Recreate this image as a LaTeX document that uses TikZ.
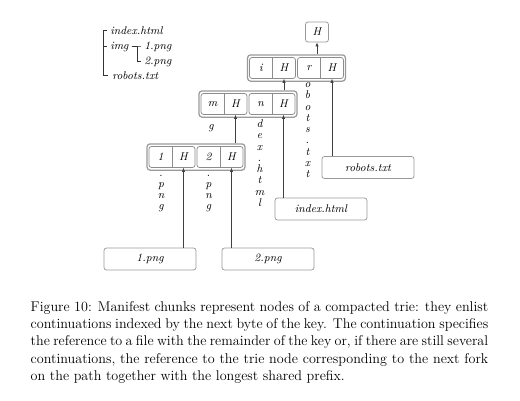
\documentclass[tikz,border=0pt]{standalone}
\usetikzlibrary{arrows.meta}
\begin{document}
\begin{tikzpicture}[x=0.8pt,y=-0.8pt,
  lbl/.style={font=\fontsize{9}{11}\selectfont\itshape, inner sep=0pt},
  cell/.style={lbl, minimum width=18.4pt, minimum height=16.8pt},
  pairbox/.style={draw=black!45, rounded corners=2pt, minimum width=36.8pt, minimum height=16.8pt, inner sep=0pt, line width=0.6pt},
  chunkbox/.style={draw=black!40, rounded corners=2.5pt, minimum width=78.4pt, minimum height=21pt, inner sep=0pt, line width=1pt},
  filebox/.style={lbl, draw=black!40, rounded corners=2pt, minimum width=73.6pt, minimum height=17.6pt, line width=0.6pt},
  hbox/.style={lbl, draw=black!40, rounded corners=2pt, minimum width=18.4pt, minimum height=16pt, line width=0.6pt},
  arr/.style={-{Latex[length=3.2pt,width=2.6pt]}, draw=black!75, line width=0.5pt},
  treeline/.style={draw=black!80, line width=0.5pt},
  divider/.style={draw=black!45, line width=0.6pt}
]
\useasboundingbox (0,0) rectangle (520,400);

% ---------- directory tree ----------
\node[lbl, anchor=base west] (t-idx) at (110,34) {index.html};
\node[lbl, anchor=base west] (t-img) at (110,49) {img};
\node[lbl, anchor=base west] (t-1) at (144,49) {1.png};
\node[lbl, anchor=base west] (t-2) at (144,64) {2.png};
\node[lbl, anchor=base west] (t-rob) at (112,79) {robots.txt};
\coordinate (tr) at (103,0);
\coordinate (tr2) at (137,0);
\draw[treeline] ([xshift=-2.4pt]t-idx.west) -- (t-idx.west -| tr) -- (t-rob.west -| tr) -- ([xshift=-3.2pt]t-rob.west);
\draw[treeline] (t-img.west -| tr) -- ([xshift=-2.4pt]t-img.west);
\draw[treeline] ([xshift=2.4pt]t-img.east) -- ([xshift=-2.4pt]t-1.west);
\draw[treeline] (t-1.west -| tr2) -- (t-2.west -| tr2) -- ([xshift=-2.4pt]t-2.west);

% ---------- top H ----------
\node[hbox] (root) at (317,32) {H};

% ---------- top chunk ----------
\node[chunkbox] (top) at (296.5,68) {};
\node[pairbox] (top-p1) at (272.5,68) {};
\node[pairbox] (top-p2) at (320.5,68) {};
\draw[divider] (top-p1.north) -- (top-p1.south);
\draw[divider] (top-p2.north) -- (top-p2.south);
\node[cell] (top-i) at (261,68) {i};
\node[cell] (top-iH) at (284,68) {H};
\node[cell] (top-r) at (309,68) {r};
\node[cell] (top-rH) at (332,68) {H};

% ---------- middle chunk ----------
\node[chunkbox] (mid) at (248,104) {};
\node[pairbox] (mid-p1) at (224,104) {};
\node[pairbox] (mid-p2) at (272,104) {};
\draw[divider] (mid-p1.north) -- (mid-p1.south);
\draw[divider] (mid-p2.north) -- (mid-p2.south);
\node[cell] (mid-m) at (212.5,104) {m};
\node[cell] (mid-mH) at (235.5,104) {H};
\node[cell] (mid-n) at (260.5,104) {n};
\node[cell] (mid-nH) at (283.5,104) {H};

% ---------- bottom chunk ----------
\node[chunkbox] (bot) at (196,157) {};
\node[pairbox] (bot-p1) at (172,157) {};
\node[pairbox] (bot-p2) at (220,157) {};
\draw[divider] (bot-p1.north) -- (bot-p1.south);
\draw[divider] (bot-p2.north) -- (bot-p2.south);
\node[cell] (bot-1) at (160.5,157) {1};
\node[cell] (bot-1H) at (183.5,157) {H};
\node[cell] (bot-2) at (208.5,157) {2};
\node[cell] (bot-2H) at (231.5,157) {H};

% ---------- remainders (vertical) ----------
\node[lbl, anchor=base] (rest-g) at (211,129) {g};
\foreach \ch [count=\i from 0] in {d,e,x,.,h,t,m,l}
  \node[lbl, anchor=base] (rest-n-\i) at (259.5,127.5+\i*11.25) {\ch};
\foreach \ch [count=\i from 0] in {o,b,o,t,s,.,t,x,t}
  \node[lbl, anchor=base] (rest-r-\i) at (307.5,87.5+\i*11.25) {\ch};
\foreach \ch [count=\i from 0] in {.,p,n,g}
  \node[lbl, anchor=base] (rest-1-\i) at (161,176+\i*11) {\ch};
\foreach \ch [count=\i from 0] in {.,p,n,g}
  \node[lbl, anchor=base] (rest-2-\i) at (208.5,176+\i*11) {\ch};

% ---------- files ----------
\node[filebox] (f1) at (150,259) {1.png};
\node[filebox] (f2) at (268,259) {2.png};
\node[filebox] (fidx) at (321,209) {index.html};
\node[filebox] (frob) at (368,167.5) {robots.txt};

% ---------- arrows ----------
\draw[arr] (top.north -| root) -- (root.south);
\draw[arr] (mid.north -| top-iH) -- (top-iH.south);
\draw[arr] (bot.north -| mid-mH) -- (mid-mH.south);
\draw[arr] (f1.north -| bot-1H) -- (bot-1H.south);
\draw[arr] (f2.north -| bot-2H) -- (bot-2H.south);
\draw[arr] (fidx.north -| mid-nH) -- (mid-nH.south);
\draw[arr] (frob.north -| top-rH) -- (top-rH.south);

% ---------- caption ----------
\node[anchor=north west, inner sep=0pt, text width=366pt, align=justify,
      font=\fontsize{11.3}{13.7}\selectfont] (caption) at (30.5,301.5)
{Figure 10: Manifest chunks represent nodes of a compacted trie: they enlist continuations indexed by the next byte of the key. The continuation specifies the reference to a file with the remainder of the key or, if there are still several continuations, the reference to the trie node corresponding to the next fork on the path together with the longest shared prefix.};
\end{tikzpicture}
\end{document}
